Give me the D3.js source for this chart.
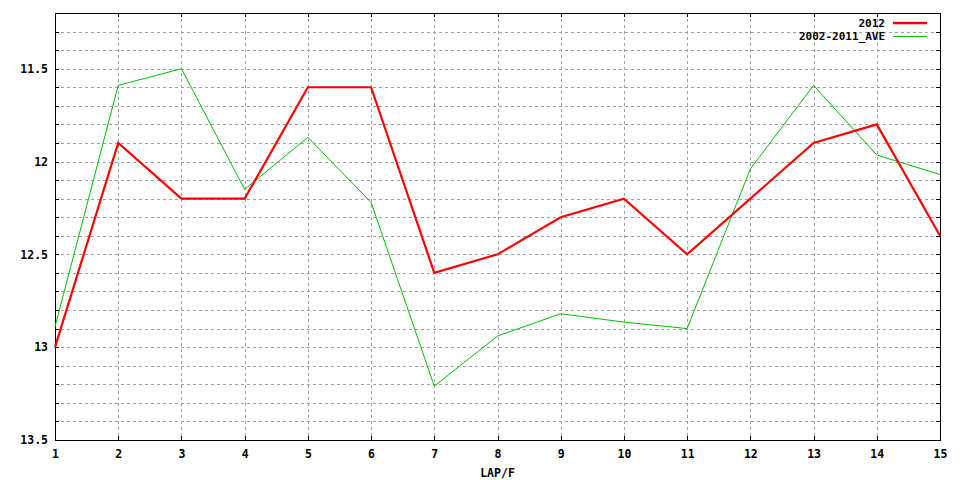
<!DOCTYPE html>
<html>
<head>
<meta charset="utf-8">
<script src="https://cdn.jsdelivr.net/npm/d3@7"></script>
<style>
  html, body { margin: 0; padding: 0; background: #fff; }
  svg text { font-family: "DejaVu Sans Mono", "Liberation Mono", monospace; font-weight: bold; font-size: 11.5px; fill: #000; }
</style>
</head>
<body>
<svg id="chart" width="960" height="480"></svg>
<script>
const laps = [1, 2, 3, 4, 5, 6, 7, 8, 9, 10, 11, 12, 13, 14, 15];
const series2012 = [13.0, 11.9, 12.2, 12.2, 11.6, 11.6, 12.6, 12.5, 12.3, 12.2, 12.5, 12.2, 11.9, 11.8, 12.4];
const seriesAve = [12.89, 11.59, 11.5, 12.15, 11.87, 12.22, 13.21, 12.94, 12.82, 12.865, 12.9, 12.04, 11.59, 11.965, 12.07];
const yTickLabels = [11.5, 12, 12.5, 13, 13.5];
const seriesNames = ["2012", "2002-2011_AVE"];
const seriesColors = ["#ff0000", "#00c000"];

const svg = d3.select("#chart");
const L = 55, R = 940, T = 13, B = 440;
const x = d3.scaleLinear().domain([1, 15]).range([L, R]);
const y = d3.scaleLinear().domain([11.2, 13.5]).range([T, B]);

const minorY = d3.range(0, 24).map(i => +(11.2 + i * 0.1).toFixed(1));

// grid
const grid = svg.append("g").attr("shape-rendering", "crispEdges");
grid.selectAll("line.gy").data(minorY.filter(v => v > 11.2 && v < 13.5)).enter().append("line")
  .attr("x1", L).attr("x2", R).attr("y1", d => Math.round(y(d)) + 0.5).attr("y2", d => Math.round(y(d)) + 0.5)
  .attr("stroke", "#a0a0a0").attr("stroke-dasharray", "3,3");
grid.selectAll("line.gx").data(laps.filter(v => v > 1 && v < 15)).enter().append("line")
  .attr("y1", T).attr("y2", B).attr("x1", d => Math.round(x(d)) + 0.5).attr("x2", d => Math.round(x(d)) + 0.5)
  .attr("stroke", "#a0a0a0").attr("stroke-dasharray", "3,3");

// axes
const fmt = d => (yTickLabels.includes(d) ? String(d) : "");
const yAxisL = d3.axisLeft(y).tickValues(minorY).tickSizeInner(-4).tickSizeOuter(0).tickPadding(7).tickFormat(fmt);
const yAxisR = d3.axisRight(y).tickValues(minorY).tickSizeInner(-4).tickSizeOuter(0).tickFormat("");
const xAxisB = d3.axisBottom(x).tickValues(laps).tickSizeInner(-4).tickSizeOuter(0).tickPadding(10).tickFormat(d3.format("d"));
const xAxisT = d3.axisTop(x).tickValues(laps).tickSizeInner(-4).tickSizeOuter(0).tickFormat("");

function style(g) {
  g.attr("shape-rendering", "crispEdges");
  g.select(".domain").remove();
  g.selectAll("line").attr("stroke", "#000");
  g.selectAll("text").attr("font-family", null).attr("font-size", null);
}
svg.append("g").attr("transform", `translate(${L},0)`).call(yAxisL).call(style);
svg.append("g").attr("transform", `translate(${R},0)`).call(yAxisR).call(style);
svg.append("g").attr("transform", `translate(0,${B})`).call(xAxisB).call(style);
svg.append("g").attr("transform", `translate(0,${T})`).call(xAxisT).call(style);

svg.append("rect").attr("x", L + 0.5).attr("y", T + 0.5).attr("width", R - L).attr("height", B - T)
  .attr("fill", "none").attr("stroke", "#000").attr("shape-rendering", "crispEdges");

svg.append("text").attr("x", (L + R) / 2).attr("y", 477).attr("text-anchor", "middle").text("LAP/F");

// lines
const line = d3.line().x((d, i) => x(laps[i])).y(d => y(d));
svg.append("path").datum(seriesAve).attr("d", line).attr("fill", "none")
  .attr("stroke", seriesColors[1]).attr("stroke-width", 1);
svg.append("path").datum(series2012).attr("d", line).attr("fill", "none")
  .attr("stroke", seriesColors[0]).attr("stroke-width", 2.2).attr("stroke-linejoin", "miter");

// legend
const leg = svg.append("g");
seriesNames.forEach((name, i) => {
  const yy = 23 + i * 13.5;
  leg.append("text").attr("x", 885).attr("y", yy).attr("dy", "0.35em").attr("text-anchor", "end")
    .style("font-size", "11px").text(name);
  leg.append("line").attr("x1", 893).attr("x2", 927).attr("y1", yy).attr("y2", yy)
    .attr("stroke", seriesColors[i]).attr("stroke-width", i === 0 ? 2.5 : 1);
});
</script>
</body>
</html>
